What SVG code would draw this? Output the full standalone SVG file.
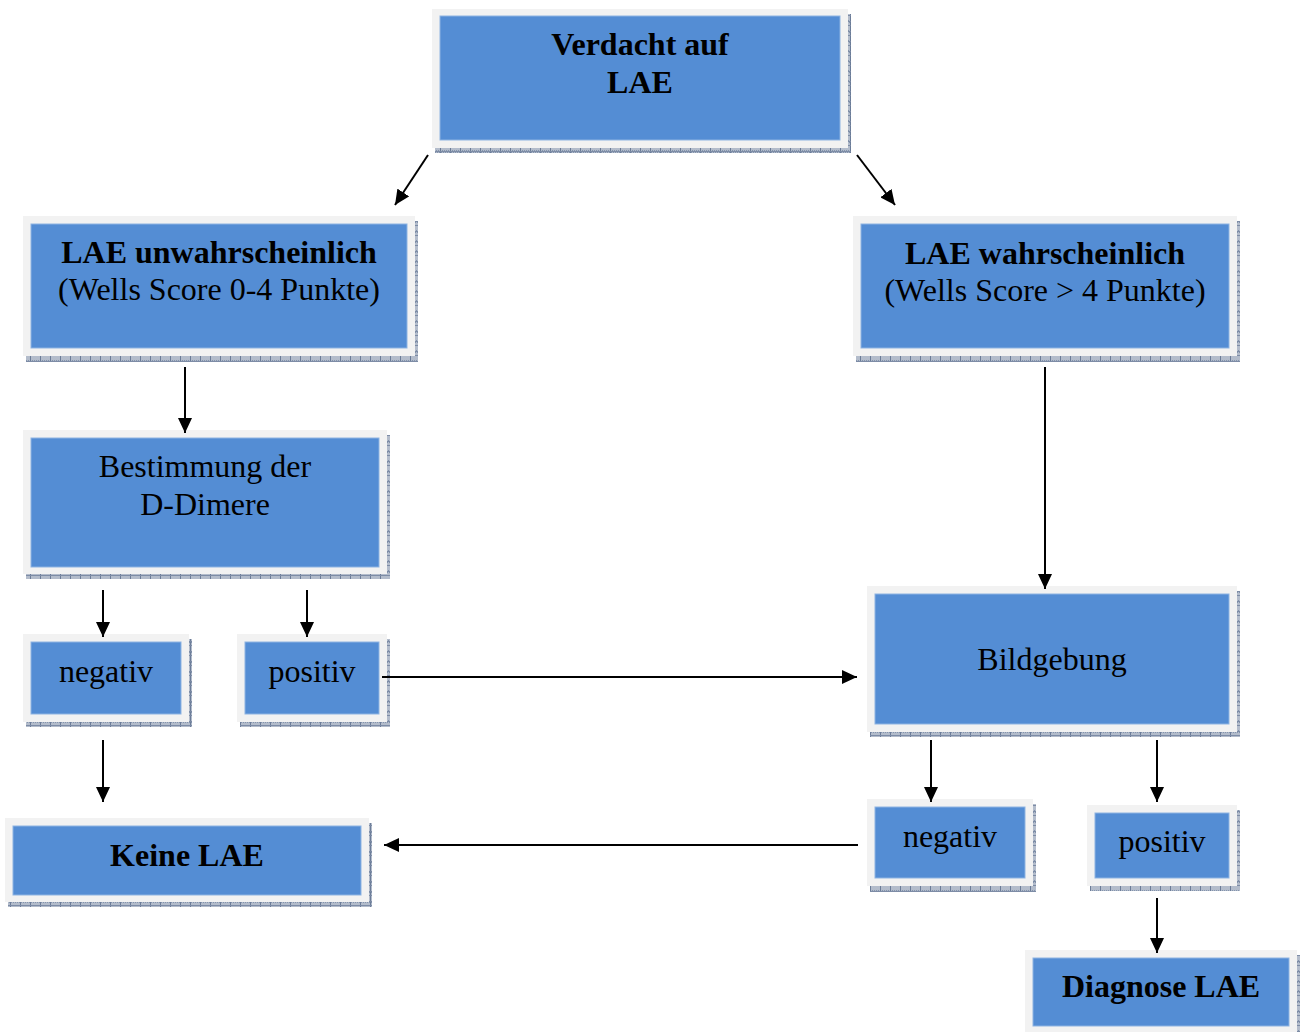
<svg xmlns="http://www.w3.org/2000/svg" width="1302" height="1032" viewBox="0 0 1302 1032">
<defs>
<pattern id="hatch" width="10" height="10" patternUnits="userSpaceOnUse">
<rect width="10" height="10" fill="#b3bccb"/>
<rect width="1" height="1" fill="#8494ad"/><rect x="2" width="1" height="1" fill="#8494ad"/><rect x="4" width="1" height="1" fill="#8494ad"/><rect x="6" width="1" height="1" fill="#8494ad"/><rect x="8" width="1" height="1" fill="#8494ad"/>
<rect y="2" x="1" width="1" height="1" fill="#8494ad"/><rect y="2" x="3" width="1" height="1" fill="#8494ad"/><rect y="2" x="5" width="1" height="1" fill="#8494ad"/><rect y="2" x="7" width="1" height="1" fill="#8494ad"/><rect y="2" x="9" width="1" height="1" fill="#8494ad"/>
<rect x="0" y="0" width="1" height="10" fill="#6b7c98"/>
<rect x="0" y="1" width="10" height="1" fill="#7d8ca6"/>
<rect x="0" y="5" width="10" height="1" fill="#7d8ca6"/>
</pattern>
<marker id="arr" markerUnits="userSpaceOnUse" markerWidth="16" markerHeight="14" refX="15" refY="7" orient="auto">
<path d="M0,0 L15,7 L0,14 z" fill="#000"/>
</marker>
</defs>
<style>
.sh{fill:url(#hatch)}
.fr{fill:#f2f2f2}
.bl{fill:#548dd4;stroke:#8db3e2;stroke-width:1}
.t{font-family:"Liberation Serif","Times New Roman",serif;font-size:32px;fill:#000;text-anchor:middle}
.b{font-weight:bold}
.c{stroke:#000;stroke-width:2;fill:none;marker-end:url(#arr)}
</style>
<rect width="1302" height="1032" fill="#fff"/>

<g id="n1">
<rect class="sh" x="435" y="14" width="416" height="139"/>
<rect class="fr" x="432" y="9" width="416" height="139"/>
<rect class="bl" x="440" y="16" width="400" height="124"/>
<text class="t b" x="640" y="55">Verdacht auf</text>
<text class="t b" x="640" y="93">LAE</text>
</g>

<g id="n2">
<rect class="sh" x="26" y="221" width="392" height="141"/>
<rect class="fr" x="23" y="216" width="392" height="140"/>
<rect class="bl" x="31" y="224" width="376" height="124"/>
<text class="t b" x="219" y="263">LAE unwahrscheinlich</text>
<text class="t" x="219" y="300">(Wells Score 0-4 Punkte)</text>
</g>

<g id="n3">
<rect class="sh" x="856" y="221" width="384" height="141"/>
<rect class="fr" x="853" y="216" width="384" height="140"/>
<rect class="bl" x="861" y="224" width="368" height="124"/>
<text class="t b" x="1045" y="264">LAE wahrscheinlich</text>
<text class="t" x="1045" y="301">(Wells Score &gt; 4 Punkte)</text>
</g>

<g id="n4">
<rect class="sh" x="26" y="435" width="364" height="144"/>
<rect class="fr" x="23" y="430" width="364" height="144"/>
<rect class="bl" x="31" y="438" width="348" height="129"/>
<text class="t" x="205" y="477">Bestimmung der</text>
<text class="t" x="205" y="515">D-Dimere</text>
</g>

<g id="n5">
<rect class="sh" x="26" y="639" width="166" height="88"/>
<rect class="fr" x="23" y="634" width="166" height="88"/>
<rect class="bl" x="31" y="642" width="150" height="72"/>
<text class="t" x="106" y="682">negativ</text>
</g>

<g id="n6">
<rect class="sh" x="240" y="639" width="150" height="88"/>
<rect class="fr" x="237" y="634" width="150" height="88"/>
<rect class="bl" x="245" y="642" width="134" height="72"/>
<text class="t" x="312" y="682">positiv</text>
</g>

<g id="n7">
<rect class="sh" x="870" y="591" width="370" height="146"/>
<rect class="fr" x="867" y="586" width="370" height="146"/>
<rect class="bl" x="875" y="594" width="354" height="130"/>
<text class="t" x="1052" y="670">Bildgebung</text>
</g>

<g id="n8">
<rect class="sh" x="8" y="823" width="364" height="84"/>
<rect class="fr" x="5" y="818" width="364" height="84"/>
<rect class="bl" x="13" y="826" width="348" height="69"/>
<text class="t b" x="187" y="866">Keine LAE</text>
</g>

<g id="n9">
<rect class="sh" x="870" y="804" width="166" height="88"/>
<rect class="fr" x="867" y="799" width="166" height="87"/>
<rect class="bl" x="875" y="807" width="150" height="71"/>
<text class="t" x="950" y="847">negativ</text>
</g>

<g id="n10">
<rect class="sh" x="1090" y="810" width="150" height="81"/>
<rect class="fr" x="1087" y="805" width="150" height="81"/>
<rect class="bl" x="1095" y="813" width="134" height="65"/>
<text class="t" x="1162" y="852">positiv</text>
</g>

<g id="n11">
<rect class="sh" x="1028" y="955" width="272" height="84"/>
<rect class="fr" x="1025" y="950" width="272" height="84"/>
<rect class="bl" x="1033" y="958" width="256" height="68"/>
<text class="t b" x="1161" y="997">Diagnose LAE</text>
</g>

<g id="connectors">
<line class="c" x1="428" y1="155" x2="395" y2="205"/>
<line class="c" x1="857" y1="155" x2="895" y2="205"/>
<line class="c" x1="185" y1="367" x2="185" y2="433"/>
<line class="c" x1="1045" y1="367" x2="1045" y2="589"/>
<line class="c" x1="103" y1="590" x2="103" y2="637"/>
<line class="c" x1="307" y1="590" x2="307" y2="637"/>
<line class="c" x1="382" y1="677" x2="857" y2="677"/>
<line class="c" x1="103" y1="740" x2="103" y2="802"/>
<line class="c" x1="931" y1="740" x2="931" y2="802"/>
<line class="c" x1="1157" y1="740" x2="1157" y2="802"/>
<line class="c" x1="858" y1="845" x2="384" y2="845"/>
<line class="c" x1="1157" y1="898" x2="1157" y2="953"/>
</g>
</svg>
